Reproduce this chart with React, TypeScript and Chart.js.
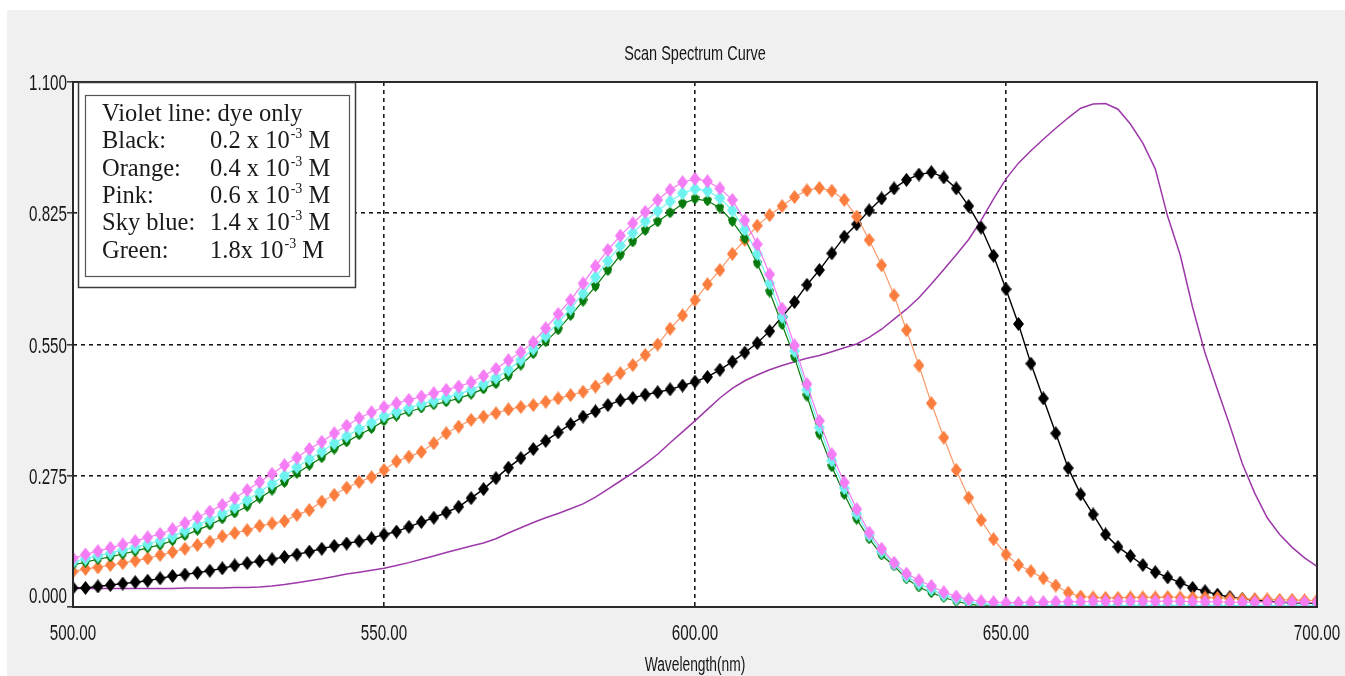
import { useEffect, useRef } from 'react';
import { Chart, registerables } from 'chart.js';

Chart.register(...registerables);

// ---------- data (absorbance vs wavelength, sampled every 2 nm) ----------
const WAVELENGTHS: number[] = Array.from({ length: 101 }, (_, i) => 500 + 2 * i);

const VIOLET_DYE: number[] = [
  0.039, 0.039, 0.039, 0.039, 0.039, 0.039, 0.039, 0.039, 0.039, 0.040,
  0.040, 0.040, 0.040, 0.041, 0.041, 0.042, 0.044, 0.047, 0.051, 0.055,
  0.059, 0.064, 0.069, 0.073, 0.077, 0.081, 0.087, 0.093, 0.100, 0.107,
  0.114, 0.121, 0.128, 0.134, 0.143, 0.155, 0.166, 0.177, 0.187, 0.196,
  0.206, 0.216, 0.230, 0.247, 0.264, 0.281, 0.300, 0.320, 0.344, 0.367,
  0.390, 0.414, 0.438, 0.458, 0.474, 0.486, 0.497, 0.506, 0.514, 0.521,
  0.527, 0.535, 0.543, 0.551, 0.565, 0.582, 0.603, 0.624, 0.648, 0.677,
  0.707, 0.738, 0.770, 0.810, 0.855, 0.897, 0.930, 0.956, 0.980, 1.003,
  1.025, 1.045, 1.054, 1.055, 1.043, 1.012, 0.972, 0.918, 0.818, 0.738,
  0.628, 0.532, 0.455, 0.380, 0.300, 0.238, 0.187, 0.152, 0.125, 0.103,
  0.085,
];

const BLACK_02: number[] = [
  0.040, 0.040, 0.043, 0.046, 0.049, 0.052, 0.055, 0.060, 0.065, 0.068,
  0.072, 0.076, 0.081, 0.087, 0.092, 0.096, 0.100, 0.105, 0.110, 0.116,
  0.122, 0.128, 0.133, 0.138, 0.144, 0.152, 0.158, 0.168, 0.178, 0.187,
  0.198, 0.210, 0.228, 0.247, 0.270, 0.292, 0.312, 0.331, 0.348, 0.366,
  0.383, 0.399, 0.410, 0.423, 0.433, 0.438, 0.445, 0.450, 0.456, 0.464,
  0.472, 0.482, 0.497, 0.514, 0.533, 0.553, 0.578, 0.608, 0.639, 0.675,
  0.706, 0.741, 0.776, 0.802, 0.831, 0.856, 0.877, 0.895, 0.906, 0.911,
  0.900, 0.877, 0.840, 0.795, 0.736, 0.666, 0.593, 0.510, 0.437, 0.364,
  0.291, 0.236, 0.194, 0.152, 0.126, 0.107, 0.088, 0.073, 0.062, 0.051,
  0.040, 0.033, 0.026, 0.021, 0.017, 0.014, 0.012, 0.010, 0.009, 0.009,
  0.008,
];

const ORANGE_04: number[] = [
  0.074, 0.080, 0.083, 0.088, 0.092, 0.097, 0.102, 0.109, 0.115, 0.122,
  0.130, 0.137, 0.148, 0.155, 0.161, 0.170, 0.175, 0.180, 0.193, 0.203,
  0.221, 0.235, 0.250, 0.262, 0.272, 0.287, 0.305, 0.315, 0.325, 0.343,
  0.364, 0.378, 0.392, 0.399, 0.406, 0.414, 0.419, 0.423, 0.430, 0.437,
  0.444, 0.451, 0.462, 0.478, 0.490, 0.507, 0.528, 0.550, 0.583, 0.611,
  0.643, 0.676, 0.706, 0.740, 0.769, 0.799, 0.821, 0.840, 0.859, 0.873,
  0.878, 0.872, 0.853, 0.818, 0.769, 0.716, 0.653, 0.580, 0.506, 0.427,
  0.355, 0.287, 0.229, 0.182, 0.142, 0.110, 0.088, 0.075, 0.060, 0.045,
  0.030, 0.022, 0.020, 0.019, 0.019, 0.020, 0.020, 0.020, 0.021, 0.020,
  0.020, 0.020, 0.019, 0.018, 0.017, 0.016, 0.016, 0.015, 0.015, 0.014,
  0.014,
];

const PINK_06: number[] = [
  0.102, 0.110, 0.117, 0.124, 0.131, 0.138, 0.146, 0.153, 0.163, 0.176,
  0.188, 0.200, 0.214, 0.228, 0.245, 0.262, 0.279, 0.297, 0.313, 0.331,
  0.346, 0.364, 0.380, 0.396, 0.408, 0.419, 0.427, 0.434, 0.441, 0.448,
  0.455, 0.462, 0.471, 0.484, 0.499, 0.517, 0.534, 0.555, 0.584, 0.614,
  0.643, 0.678, 0.714, 0.748, 0.778, 0.804, 0.828, 0.853, 0.874, 0.890,
  0.897, 0.892, 0.877, 0.853, 0.810, 0.760, 0.697, 0.625, 0.548, 0.467,
  0.390, 0.320, 0.261, 0.205, 0.156, 0.122, 0.093, 0.070, 0.056, 0.044,
  0.031, 0.022, 0.016, 0.012, 0.010, 0.009, 0.009, 0.010, 0.010, 0.011,
  0.011, 0.011, 0.012, 0.012, 0.012, 0.012, 0.012, 0.012, 0.012, 0.012,
  0.011, 0.011, 0.011, 0.010, 0.010, 0.010, 0.010, 0.010, 0.010, 0.010,
  0.010,
];

const SKYBLUE_14: number[] = [
  0.094, 0.101, 0.107, 0.113, 0.119, 0.125, 0.132, 0.139, 0.148, 0.160,
  0.172, 0.183, 0.196, 0.209, 0.224, 0.241, 0.258, 0.275, 0.293, 0.310,
  0.326, 0.343, 0.358, 0.373, 0.386, 0.400, 0.409, 0.417, 0.425, 0.432,
  0.439, 0.446, 0.455, 0.467, 0.480, 0.497, 0.518, 0.541, 0.568, 0.596,
  0.625, 0.657, 0.691, 0.725, 0.757, 0.784, 0.808, 0.830, 0.850, 0.867,
  0.876, 0.872, 0.857, 0.831, 0.791, 0.740, 0.678, 0.608, 0.536, 0.455,
  0.376, 0.307, 0.249, 0.195, 0.150, 0.116, 0.090, 0.064, 0.049, 0.037,
  0.025, 0.017, 0.011, 0.007, 0.005, 0.004, 0.003, 0.003, 0.003, 0.003,
  0.003, 0.003, 0.003, 0.003, 0.003, 0.003, 0.003, 0.003, 0.003, 0.003,
  0.003, 0.003, 0.003, 0.003, 0.003, 0.003, 0.003, 0.003, 0.003, 0.003,
  0.003,
];

const GREEN_18: number[] = [
  0.088, 0.094, 0.100, 0.105, 0.111, 0.117, 0.124, 0.130, 0.139, 0.150,
  0.161, 0.172, 0.185, 0.197, 0.211, 0.228, 0.245, 0.261, 0.280, 0.297,
  0.313, 0.331, 0.346, 0.361, 0.374, 0.390, 0.400, 0.409, 0.417, 0.424,
  0.430, 0.437, 0.446, 0.457, 0.468, 0.484, 0.507, 0.531, 0.556, 0.581,
  0.611, 0.641, 0.672, 0.705, 0.737, 0.765, 0.789, 0.807, 0.826, 0.845,
  0.855, 0.851, 0.836, 0.808, 0.772, 0.720, 0.660, 0.592, 0.523, 0.442,
  0.362, 0.294, 0.236, 0.184, 0.143, 0.109, 0.086, 0.059, 0.042, 0.030,
  0.020, 0.012, 0.006, 0.003, 0.002, 0.001, 0.001, 0.001, 0.001, 0.001,
  0.001, 0.001, 0.001, 0.001, 0.001, 0.001, 0.001, 0.001, 0.001, 0.001,
  0.001, 0.001, 0.001, 0.001, 0.001, 0.001, 0.001, 0.001, 0.001, 0.001,
  0.001,
];

const X_TICKS: number[] = [500, 550, 600, 650, 700];
const X_TICK_LABELS: string[] = ['500.00', '550.00', '600.00', '650.00', '700.00'];
const Y_TICKS: number[] = [0, 0.275, 0.55, 0.825, 1.1];
const Y_TICK_LABELS: string[] = ['0.000', '0.275', '0.550', '0.825', '1.100'];

const CHART_TITLE = 'Scan Spectrum Curve';
const X_TITLE = 'Wavelength(nm)';

const LEGEND_HEAD = 'Violet line: dye only';
const LEGEND_NAMES: string[] = ['Black:', 'Orange:', 'Pink:', 'Sky blue:', 'Green:'];
const LEGEND_VALUES: string[] = ['0.2 x 10', '0.4 x 10', '0.6 x 10', '1.4 x 10', '1.8x 10'];
const LEGEND_EXP = '-3';
const LEGEND_UNIT = ' M';

// ---------- styling ----------
const SANS = '"Liberation Sans", Arial, sans-serif';
const SERIF = '"Liberation Serif", "Times New Roman", serif';
const NARROW_X = 0.69; // horizontal compression for the narrow UI font

const C_VIOLET = '#9c38a8';
const C_BLACK = '#000000';
const C_ORANGE = '#fb7d3e';
const C_ORANGE_LINE = '#f99a6a';
const C_PINK = '#f47cf4';
const C_SKY = '#6ef2f0';
const C_GREEN = '#067a0a';

function makeDiamond(color: string, w: number, h: number): HTMLCanvasElement {
  const c = document.createElement('canvas');
  c.width = w;
  c.height = h;
  const ctx = c.getContext('2d')!;
  ctx.fillStyle = color;
  ctx.beginPath();
  ctx.moveTo(w / 2, 0);
  ctx.lineTo(w, h / 2);
  ctx.lineTo(w / 2, h);
  ctx.lineTo(0, h / 2);
  ctx.closePath();
  ctx.fill();
  return c;
}

function makeShield(color: string, w: number, h: number): HTMLCanvasElement {
  const c = document.createElement('canvas');
  c.width = w;
  c.height = h;
  const ctx = c.getContext('2d')!;
  ctx.fillStyle = color;
  ctx.beginPath();
  ctx.moveTo(w * 0.5, 0);
  ctx.lineTo(w, h * 0.3);
  ctx.lineTo(w * 0.85, h * 0.7);
  ctx.lineTo(w * 0.5, h);
  ctx.lineTo(w * 0.15, h * 0.7);
  ctx.lineTo(0, h * 0.3);
  ctx.closePath();
  ctx.fill();
  return c;
}

function narrowText(ctx: CanvasRenderingContext2D, text: string, x: number, baseline: number, align: 'left' | 'center' | 'right', size: number) {
  ctx.save();
  ctx.font = `${size}px ${SANS}`;
  ctx.textAlign = 'left';
  ctx.textBaseline = 'alphabetic';
  const w = ctx.measureText(text).width * NARROW_X;
  const left = align === 'right' ? x - w : align === 'center' ? x - w / 2 : x;
  ctx.translate(left, baseline);
  ctx.scale(NARROW_X, 1);
  ctx.fillText(text, 0, 0);
  ctx.restore();
}

const backgroundPlugin = {
  id: 'bgPanel',
  beforeDraw(chart: any) {
    const { ctx, width, height, chartArea } = chart;
    ctx.save();
    ctx.fillStyle = '#ffffff';
    ctx.fillRect(0, 0, width, height);
    ctx.fillStyle = '#f0f0f0';
    ctx.fillRect(7, 10, width - 7, height - 10);
    ctx.fillStyle = '#ffffff';
    ctx.fillRect(chartArea.left, chartArea.top, chartArea.right - chartArea.left, chartArea.bottom - chartArea.top);
    ctx.restore();
  },
};

const axisTextPlugin = {
  id: 'axisText',
  afterDraw(chart: any) {
    const { ctx, chartArea } = chart;
    const xs = chart.scales.x;
    const ys = chart.scales.y;
    ctx.save();
    ctx.fillStyle = '#161616';
    const size = 22;
    // y tick labels
    Y_TICKS.forEach((v, i) => {
      const py = Math.min(ys.getPixelForValue(v), chartArea.bottom - 12);
      narrowText(ctx, Y_TICK_LABELS[i], chartArea.left - 6, py + 8, 'right', size);
    });
    // x tick labels
    X_TICKS.forEach((v, i) => {
      const px = xs.getPixelForValue(v);
      narrowText(ctx, X_TICK_LABELS[i], px, chartArea.bottom + 33, 'center', size);
    });
    // titles
    const cx = (chartArea.left + chartArea.right) / 2;
    narrowText(ctx, CHART_TITLE, cx, 60, 'center', 21);
    narrowText(ctx, X_TITLE, cx, chartArea.bottom + 64, 'center', 20);
    ctx.restore();
  },
};

const framePlugin = {
  id: 'frameAndNote',
  afterDraw(chart: any) {
    const { ctx, chartArea } = chart;
    const { left, top, right, bottom } = chartArea;
    ctx.save();
    ctx.setLineDash([]);
    ctx.strokeStyle = '#2a2a2a';
    ctx.lineWidth = 2;
    ctx.strokeRect(left, top, right - left, bottom - top);

    // annotation box
    const bx = left + 5;
    const by = top;
    const bw = 277;
    const bh = 205;
    ctx.fillStyle = '#ffffff';
    ctx.fillRect(bx, by, bw, bh);
    ctx.strokeStyle = '#3a3a3a';
    ctx.lineWidth = 1.5;
    ctx.strokeRect(bx + 0.5, by + 0.5, bw, bh);
    ctx.lineWidth = 1.2;
    ctx.strokeStyle = '#555555';
    ctx.strokeRect(bx + 7.5, by + 13.5, bw - 13, bh - 24);

    ctx.fillStyle = '#1a1a1a';
    ctx.textBaseline = 'alphabetic';
    ctx.textAlign = 'left';
    const textX = left + 29;
    const valX = left + 137;
    const base0 = top + 39;
    const step = 27.3;
    const big = `24.5px ${SERIF}`;
    ctx.font = big;
    ctx.fillText(LEGEND_HEAD, textX, base0);
    LEGEND_NAMES.forEach((name, i) => {
      const y = base0 + step * (i + 1);
      ctx.font = big;
      ctx.fillText(name, textX, y);
      const v = LEGEND_VALUES[i];
      ctx.fillText(v, valX, y);
      const w1 = ctx.measureText(v).width;
      ctx.font = `14px ${SERIF}`;
      ctx.fillText(LEGEND_EXP, valX + w1 + 1, y - 10);
      const w2 = ctx.measureText(LEGEND_EXP).width;
      ctx.font = big;
      ctx.fillText(LEGEND_UNIT, valX + w1 + w2 + 1, y);
    });
    ctx.restore();
  },
};

export default function App() {
  const canvasRef = useRef<HTMLCanvasElement | null>(null);

  useEffect(() => {
    if (!canvasRef.current) return;
    const pts = (arr: number[]) => WAVELENGTHS.map((x, i) => ({ x, y: arr[i] }));
    const dPink = makeDiamond(C_PINK, 11, 14);
    const dSky = makeDiamond(C_SKY, 11, 14);
    const dGreen = makeShield(C_GREEN, 9, 11);
    const dOrange = makeDiamond(C_ORANGE, 11, 14);
    const dBlack = makeDiamond(C_BLACK, 11, 14);

    const chart = new Chart(canvasRef.current, {
      type: 'line',
      data: {
        datasets: [
          { label: 'Pink', data: pts(PINK_06), borderColor: C_PINK, borderWidth: 1.2, pointStyle: dPink as any, pointRadius: 5, backgroundColor: C_PINK, clip: 0 },
          { label: 'Sky blue', data: pts(SKYBLUE_14), borderColor: C_SKY, borderWidth: 1.2, pointStyle: dSky as any, pointRadius: 5, backgroundColor: C_SKY, clip: 0 },
          { label: 'Green', data: pts(GREEN_18), borderColor: C_GREEN, borderWidth: 1.2, pointStyle: dGreen as any, pointRadius: 5, backgroundColor: C_GREEN, clip: 0 },
          { label: 'Orange', data: pts(ORANGE_04), borderColor: C_ORANGE_LINE, borderWidth: 1.2, pointStyle: dOrange as any, pointRadius: 5, backgroundColor: C_ORANGE, clip: 0 },
          { label: 'Black', data: pts(BLACK_02), borderColor: C_BLACK, borderWidth: 1.4, pointStyle: dBlack as any, pointRadius: 5, backgroundColor: C_BLACK, clip: 0 },
          { label: 'Violet', data: pts(VIOLET_DYE), borderColor: C_VIOLET, borderWidth: 1.5, pointRadius: 0, clip: 0 },
        ] as any,
      },
      options: {
        animation: false,
        responsive: false,
        devicePixelRatio: 1,
        layout: { padding: { left: 0, right: 28, top: 82, bottom: 0 } },
        plugins: {
          legend: { display: false },
          tooltip: { enabled: false },
          title: { display: false },
        },
        scales: {
          x: {
            type: 'linear',
            min: 500,
            max: 700,
            afterBuildTicks: (s: any) => {
              s.ticks = X_TICKS.map((v) => ({ value: v }));
            },
            afterFit: (s: any) => {
              s.height = 69;
            },
            ticks: { display: false, autoSkip: false, maxRotation: 0 },
            grid: { color: '#1a1a1a', lineWidth: 1.6, drawTicks: false },
            border: { display: false, dash: [4, 4] },
          },
          y: {
            type: 'linear',
            min: 0,
            max: 1.1,
            afterBuildTicks: (s: any) => {
              s.ticks = Y_TICKS.map((v) => ({ value: v }));
            },
            afterFit: (s: any) => {
              s.width = 73;
            },
            ticks: { display: false, autoSkip: false },
            grid: {
              color: '#1a1a1a',
              lineWidth: 1.6,
              drawTicks: true,
              tickLength: 6,
              tickColor: '#333333',
              tickWidth: 1.5,
              tickBorderDash: [],
            },
            border: { display: false, dash: [4, 4] },
          },
        },
      },
      plugins: [backgroundPlugin, axisTextPlugin, framePlugin],
    } as any);

    return () => chart.destroy();
  }, []);

  return (
    <div style={{ position: 'absolute', left: 0, top: 0, width: 1345, height: 676 }}>
      <canvas ref={canvasRef} width={1345} height={676} style={{ display: 'block', width: 1345, height: 676 }} />
    </div>
  );
}
